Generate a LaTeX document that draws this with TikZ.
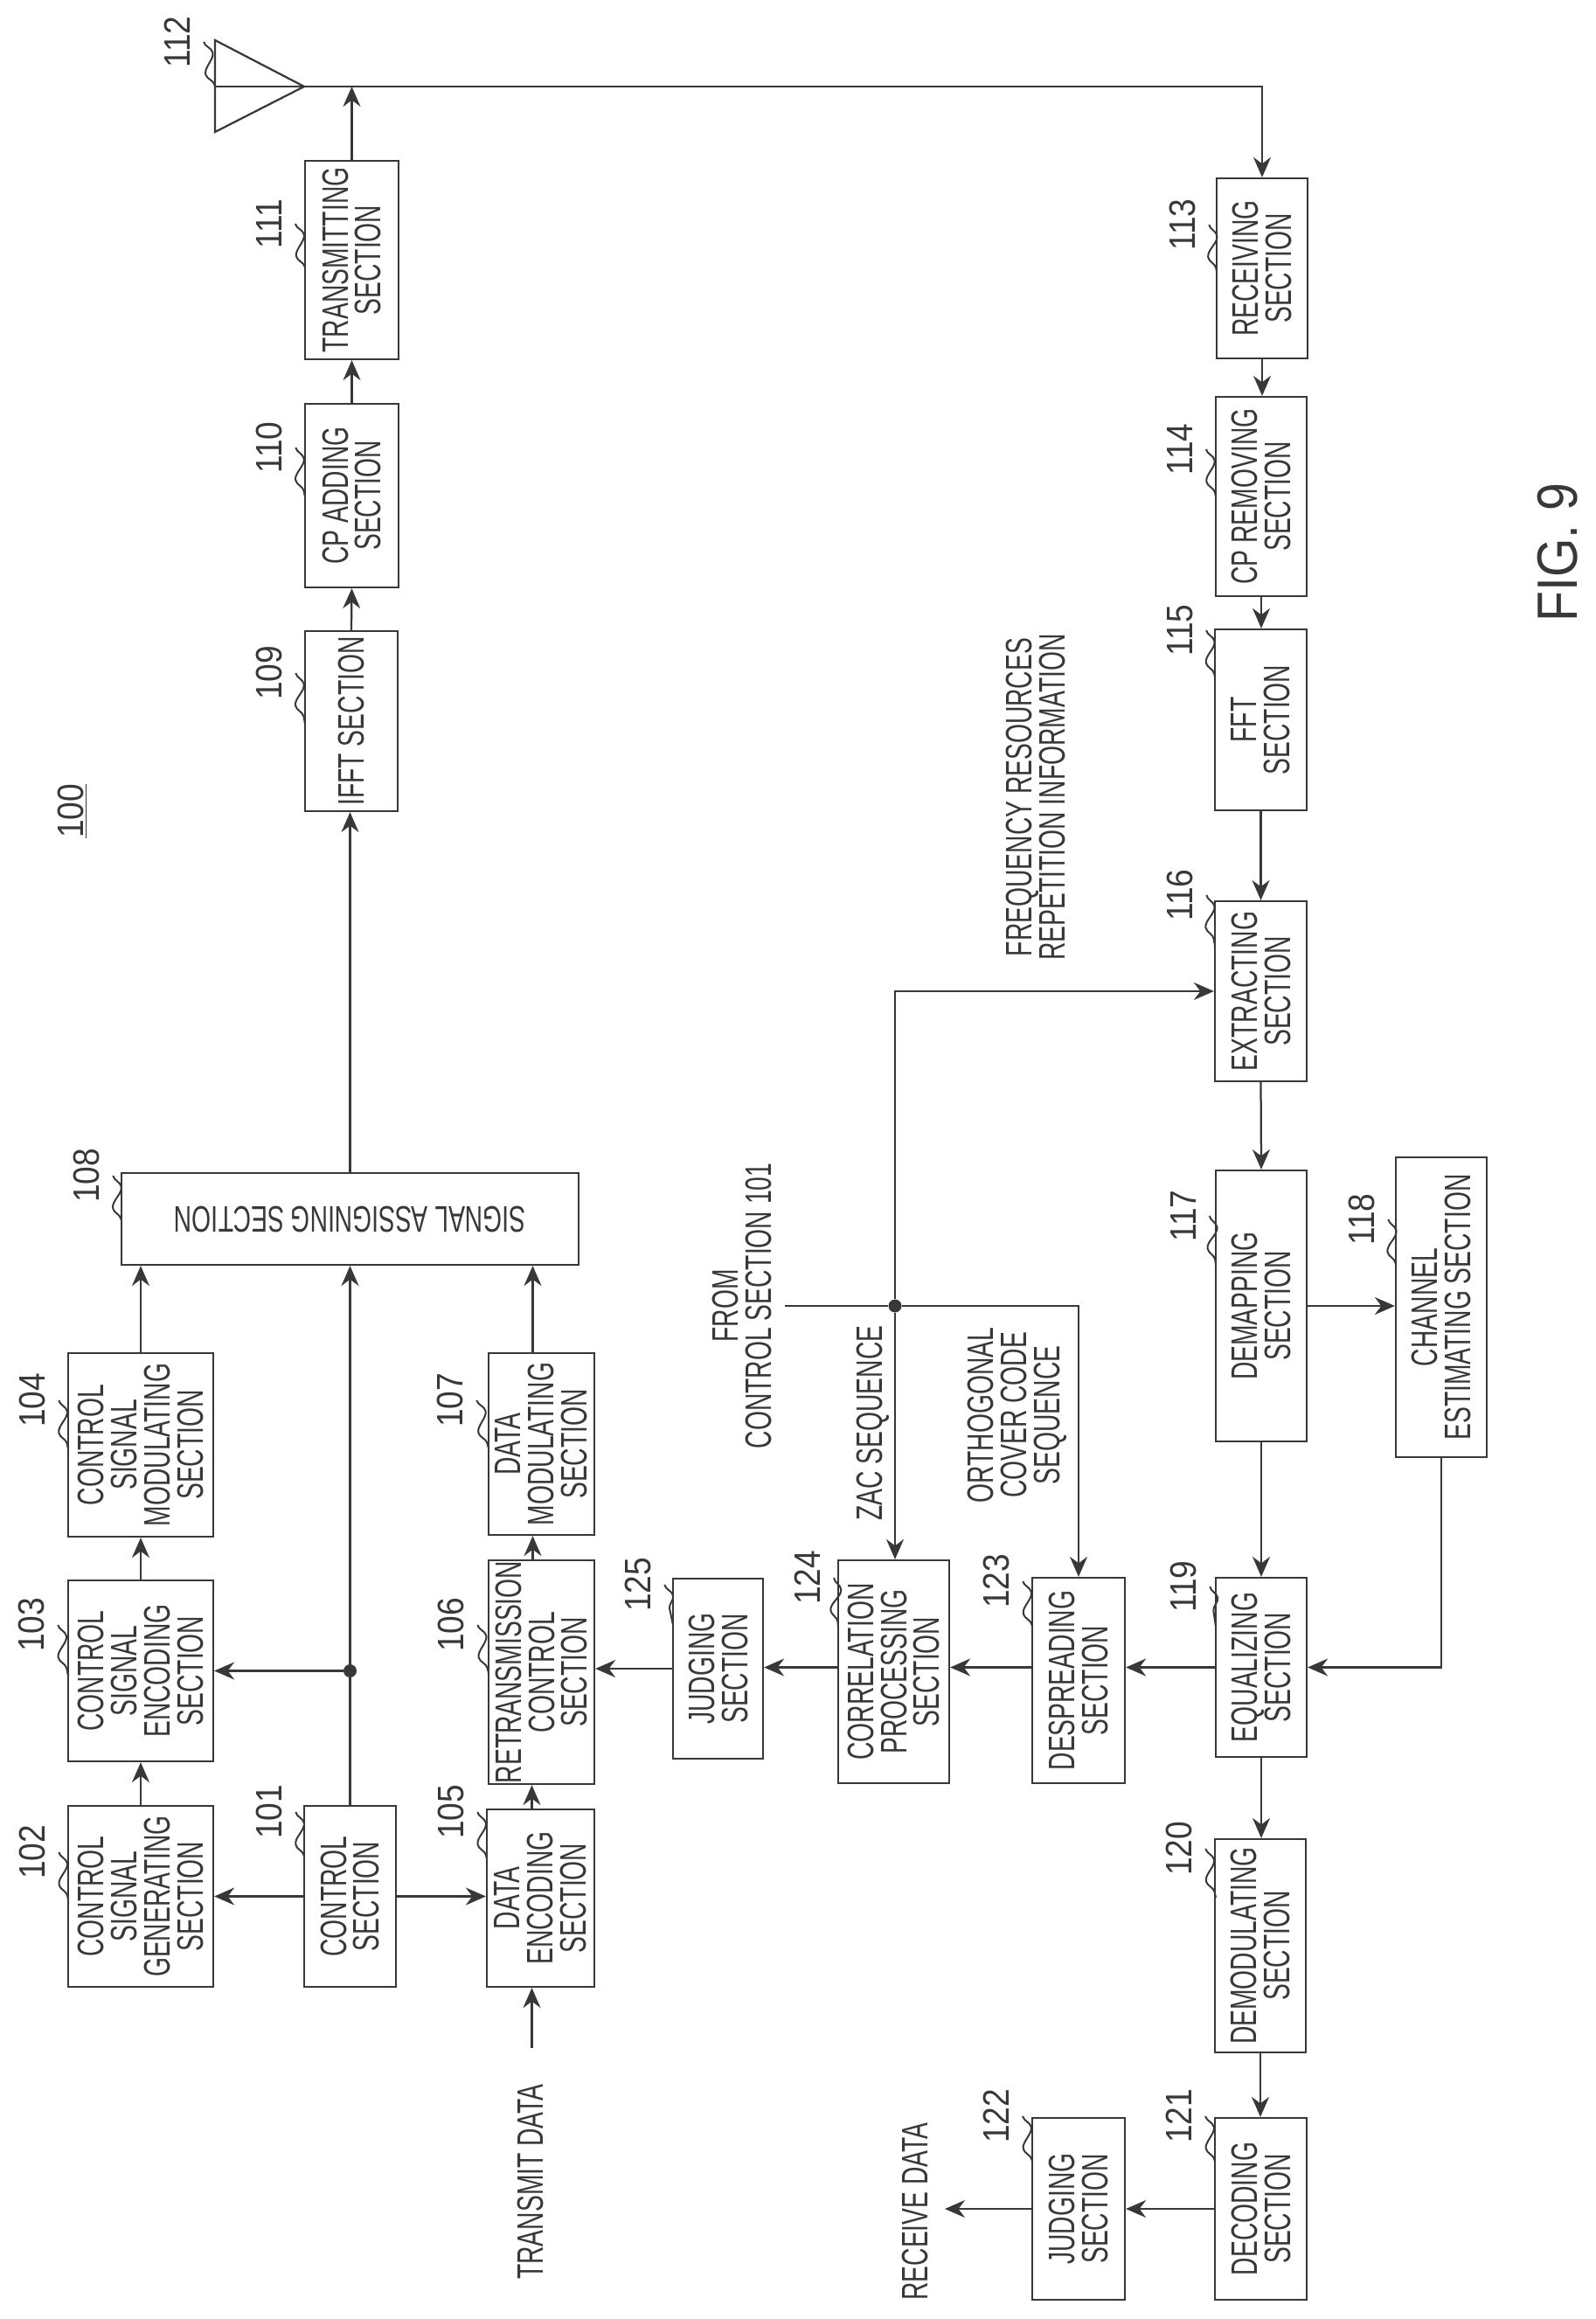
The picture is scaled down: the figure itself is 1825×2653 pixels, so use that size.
\documentclass[tikz,border=0pt]{standalone}
\usepackage{fontspec}
\setmainfont[FakeStretch=0.67]{Liberation Sans}
\newfontfamily\figfont[FakeStretch=0.88]{Liberation Sans}
\usetikzlibrary{arrows.meta,decorations.pathmorphing}
\begin{document}
\begin{tikzpicture}[x=0.02cm,y=-0.02cm,color=black!78]
		\tikzset{section/.style = {draw, line width=0.045cm, rotate=90, align=center, inner sep=0pt, font=\fontsize{24pt}{21.6pt}\selectfont}}
		\tikzset{plain/.style = {rotate=90, align=center, inner sep=0pt, font=\fontsize{24pt}{21.6pt}\selectfont}}
		\tikzset{refnum/.style = {rotate=90, inner sep=0.3cm, font=\fontsize{24pt}{21.6pt}\selectfont\figfont}}
		\tikzset{tag/.style = {line width=0.04cm, decorate, decoration={snake, amplitude=0.14cm, segment length=0.9cm}}}
		\tikzset{edge/.style = {line width=0.045cm, -{Stealth[length=0.46cm,width=0.4cm]}}}
		\tikzset{wire/.style = {line width=0.045cm}}
		\tikzset{joint/.style = {circle, fill, inner sep=0pt, minimum size=0.3cm}}
		\useasboundingbox (0,0) rectangle (1825,2653);
		
		\node[section, minimum width=4.14cm, minimum height=2.10cm] (101) at (400.5,2169.5) {CONTROL\\SECTION};
		\node[section, minimum width=4.14cm, minimum height=3.32cm] (102) at ( 161,2169.5) {CONTROL\\SIGNAL\\GENERATING\\SECTION};
		\node[section, minimum width=4.14cm, minimum height=3.32cm] (103) at ( 161,1911.5) {CONTROL\\SIGNAL\\ENCODING\\SECTION};
		\node[section, minimum width=4.20cm, minimum height=3.32cm] (104) at ( 161,1653) {CONTROL\\SIGNAL\\MODULATING\\SECTION};
		\node[section, minimum width=4.06cm, minimum height=2.46cm] (105) at (618.5,2171.5) {DATA\\ENCODING\\SECTION};
		\node[section, minimum width=5.12cm, minimum height=2.42cm] (106) at (619.5,1913) {RETRANSMISSION\\CONTROL\\SECTION};
		\node[section, minimum width=4.16cm, minimum height=2.42cm] (107) at (619.5,1652) {DATA\\MODULATING\\SECTION};
		\node[section, rotate=90, minimum width=10.46cm, minimum height=2.10cm] (108) at (400.5,1394.5) {SIGNAL ASSIGNING SECTION};
		\node[section, minimum width=4.12cm, minimum height=2.12cm] (109) at ( 402, 825) {IFFT SECTION};
		\node[section, minimum width=4.20cm, minimum height=2.14cm] (110) at (402.5, 567) {CP ADDING\\SECTION};
		\node[section, minimum width=4.54cm, minimum height=2.14cm] (111) at (402.5,297.5) {TRANSMITTING\\SECTION};
		\node[section, minimum width=4.12cm, minimum height=2.08cm] (113) at (1444, 307) {RECEIVING\\SECTION};
		\node[section, minimum width=4.56cm, minimum height=2.08cm] (114) at (1443, 568) {CP REMOVING\\SECTION};
		\node[section, minimum width=4.14cm, minimum height=2.10cm] (115) at (1442.5,823.5) {FFT\\SECTION};
		\node[section, minimum width=4.12cm, minimum height=2.10cm] (116) at (1442.5,1134) {EXTRACTING\\SECTION};
		\node[section, minimum width=6.20cm, minimum height=2.08cm] (117) at (1443,1494) {DEMAPPING\\SECTION};
		\node[section, minimum width=6.86cm, minimum height=2.08cm] (118) at (1649,1495.5) {CHANNEL\\ESTIMATING SECTION};
		\node[section, minimum width=4.10cm, minimum height=2.08cm] (119) at (1443,1907.5) {EQUALIZING\\SECTION};
		\node[section, minimum width=4.88cm, minimum height=2.08cm] (120) at (1442,2226) {DEMODULATING\\SECTION};
		\node[section, minimum width=4.16cm, minimum height=2.10cm] (121) at (1442.5,2527) {DECODING\\SECTION};
		\node[section, minimum width=4.16cm, minimum height=2.12cm] (122) at (1234,2527) {JUDGING\\SECTION};
		\node[section, minimum width=4.70cm, minimum height=2.12cm] (123) at (1234,1922.5) {DESPREADING\\SECTION};
		\node[section, minimum width=5.10cm, minimum height=2.54cm] (124) at (1022.5,1912.5) {CORRELATION\\PROCESSING\\SECTION};
		\node[section, minimum width=4.12cm, minimum height=2.06cm] (125) at (821.5,1909) {JUDGING\\SECTION};
		
		\node[plain] (transmit) at ( 607,2496) {TRANSMIT DATA};
		\node[plain] (receive) at (1047,2530) {RECEIVE DATA};
		\node[plain, inner sep=0.3cm] (from) at ( 849,1494) {FROM\\CONTROL SECTION 101};
		\node[plain] (zac) at ( 999,1628) {ZAC SEQUENCE};
		\node[plain] (cover) at (1164,1619) {ORTHOGONAL\\COVER CODE\\SEQUENCE};
		\node[plain] (freq) at (1185, 912) {FREQUENCY RESOURCES\\REPETITION INFORMATION};
		\node[plain] (device) at (  83, 928) {\figfont\underline{100}};
		\node[rotate=90, inner sep=0pt, font=\fontsize{37pt}{37pt}\selectfont\figfont] (fig) at (1782, 632) {FIG. 9};
		
		\coordinate (112) at ( 348,  99);
		\coordinate (112back) at ( 246,  99);
		\coordinate (transmitend) at ( 608.5,2343);
		\coordinate (receiveend) at (1081,2527);
		\node[joint] (j1) at (400.5,1911.5) {};
		\node[joint] (j2) at (1024,1494) {};
		
		\draw[wire] (246,46) -- (112) -- (246,151) -- cycle;
		\draw[wire] (112back) -- (112);
		
		\draw[edge] (101.north) to (102.south);
		\draw[edge] (101.south) to (101.south -| 105.north);
		\draw[edge] (102.east) to (103.west);
		\draw[edge] (103.east) to (104.west);
		\draw[edge] ([xshift=-0.2cm]105.east) to ([xshift=-0.2cm]105.east |- 106.west);
		\draw[edge] ([xshift=-0.2cm]106.east) to ([xshift=-0.2cm]106.east |- 107.west);
		\draw[edge] ([xshift=-0.2cm]107.east) to ([xshift=-0.2cm]107.east |- 108.north);
		\draw[edge] (104.east) to (104.east |- 108.north);
		\draw[edge] (101.east) to (101.east |- 108.north);
		\draw[edge] (j1) to (103.south);
		\draw[edge] (108.south) to (108.south |- 109.west);
		\draw[edge] (109.east) to (110.west);
		\draw[edge] (110.east) to (111.west);
		\draw[edge] (111.east) to (111.east |- 112);
		\draw[edge] (112) -| (113.east);
		\draw[edge] (113.west) to (113.west |- 114.east);
		\draw[edge] (114.west) to (114.west |- 115.east);
		\draw[edge] (115.west) to (116.east);
		\draw[edge] (116.west) to (117.east);
		\draw[edge] (117.west) to (119.east);
		\draw[edge] (117.south) to (117.south -| 118.north);
		\draw[edge] (118.west) |- (119.south);
		\draw[edge] (119.west) to (119.west |- 120.east);
		\draw[edge] (120.west) to (120.west |- 121.east);
		\draw[edge] (121.north) to (122.south);
		\draw[edge] (122.north) to (receiveend);
		\draw[edge] (119.north) to (119.north -| 123.south);
		\draw[edge] (119.north -| 123.north) to (119.north -| 124.south);
		\draw[edge] (119.north -| 124.north) to (119.north -| 125.south);
		\draw[edge] (125.north) to (125.north -| 106.south);
		\draw[edge] (transmitend) to (transmitend |- 105.west);
		\draw[wire] (from.south) to (j2);
		\draw[edge] (j2) -| (123.east);
		\draw[edge] (j2) to (j2 |- 124.east);
		\draw[edge] (j2) |- (116.north);
		
		\node[refnum] (l101) at ( 308,2073) {101};
		\node[refnum] (l102) at (  37,2119) {102};
		\node[refnum] (l103) at (  36,1859) {103};
		\node[refnum] (l104) at (  37,1602) {104};
		\node[refnum] (l105) at ( 516,2073) {105};
		\node[refnum] (l106) at ( 516,1859) {106};
		\node[refnum] (l107) at ( 515,1602) {107};
		\node[refnum] (l108) at (  99,1345) {108};
		\node[refnum] (l109) at ( 308, 770) {109};
		\node[refnum] (l110) at ( 308, 512) {110};
		\node[refnum] (l111) at ( 308, 256) {111};
		\node[refnum] (l112) at ( 203,  48) {112};
		\node[refnum] (l113) at (1353, 257) {113};
		\node[refnum] (l114) at (1350, 514) {114};
		\node[refnum] (l115) at (1350, 721) {115};
		\node[refnum] (l116) at (1350,1024) {116};
		\node[refnum] (l117) at (1354,1391) {117};
		\node[refnum] (l118) at (1558,1395) {118};
		\node[refnum] (l119) at (1354,1815) {119};
		\node[refnum] (l120) at (1349,2115) {120};
		\node[refnum] (l121) at (1349,2421) {121};
		\node[refnum] (l122) at (1140,2421) {122};
		\node[refnum] (l123) at (1140,1809) {123};
		\node[refnum] (l124) at ( 924,1805) {124};
		\node[refnum] (l125) at ( 730,1813) {125};
		
		\coordinate (t101) at ( 348,2124);
		\coordinate (t102) at (  78,2173);
		\coordinate (t103) at (  78,1917);
		\coordinate (t104) at (  78,1658);
		\coordinate (t105) at ( 557,2127);
		\coordinate (t106) at ( 559,1914);
		\coordinate (t107) at ( 559,1657);
		\coordinate (t108) at ( 139,1397);
		\coordinate (t109) at ( 349, 828);
		\coordinate (t110) at ( 349, 569);
		\coordinate (t111) at ( 349, 306);
		\coordinate (t113) at (1392, 311);
		\coordinate (t114) at (1391, 568);
		\coordinate (t115) at (1390, 775);
		\coordinate (t116) at (1390,1082);
		\coordinate (t117) at (1391,1447);
		\coordinate (t118) at (1597,1447);
		\coordinate (t119) at (1391,1861);
		\coordinate (t120) at (1391,2171);
		\coordinate (t121) at (1390,2473);
		\coordinate (t122) at (1181,2473);
		\coordinate (t123) at (1181,1861);
		\coordinate (t124) at ( 959,1861);
		\coordinate (t125) at ( 770,1859);
		
		\draw[tag] (l101.south) -- (t101);
		\draw[tag] (l102.south) -- (t102);
		\draw[tag] (l103.south) -- (t103);
		\draw[tag] (l104.south) -- (t104);
		\draw[tag] (l105.south) -- (t105);
		\draw[tag] (l106.south) -- (t106);
		\draw[tag] (l107.south) -- (t107);
		\draw[tag] (l108.south) -- (t108);
		\draw[tag] (l109.south) -- (t109);
		\draw[tag] (l110.south) -- (t110);
		\draw[tag] (l111.south) -- (t111);
		\draw[tag] (l112.south) -- (112back);
		\draw[tag] (l113.south) -- (t113);
		\draw[tag] (l114.south) -- (t114);
		\draw[tag] (l115.south) -- (t115);
		\draw[tag] (l116.south) -- (t116);
		\draw[tag] (l117.south) -- (t117);
		\draw[tag] (l118.south) -- (t118);
		\draw[tag] (l119.south) -- (t119);
		\draw[tag] (l120.south) -- (t120);
		\draw[tag] (l121.south) -- (t121);
		\draw[tag] (l122.south) -- (t122);
		\draw[tag] (l123.south) -- (t123);
		\draw[tag] (l124.south) -- (t124);
		\draw[tag] (l125.south) -- (t125);
\end{tikzpicture}
\end{document}
